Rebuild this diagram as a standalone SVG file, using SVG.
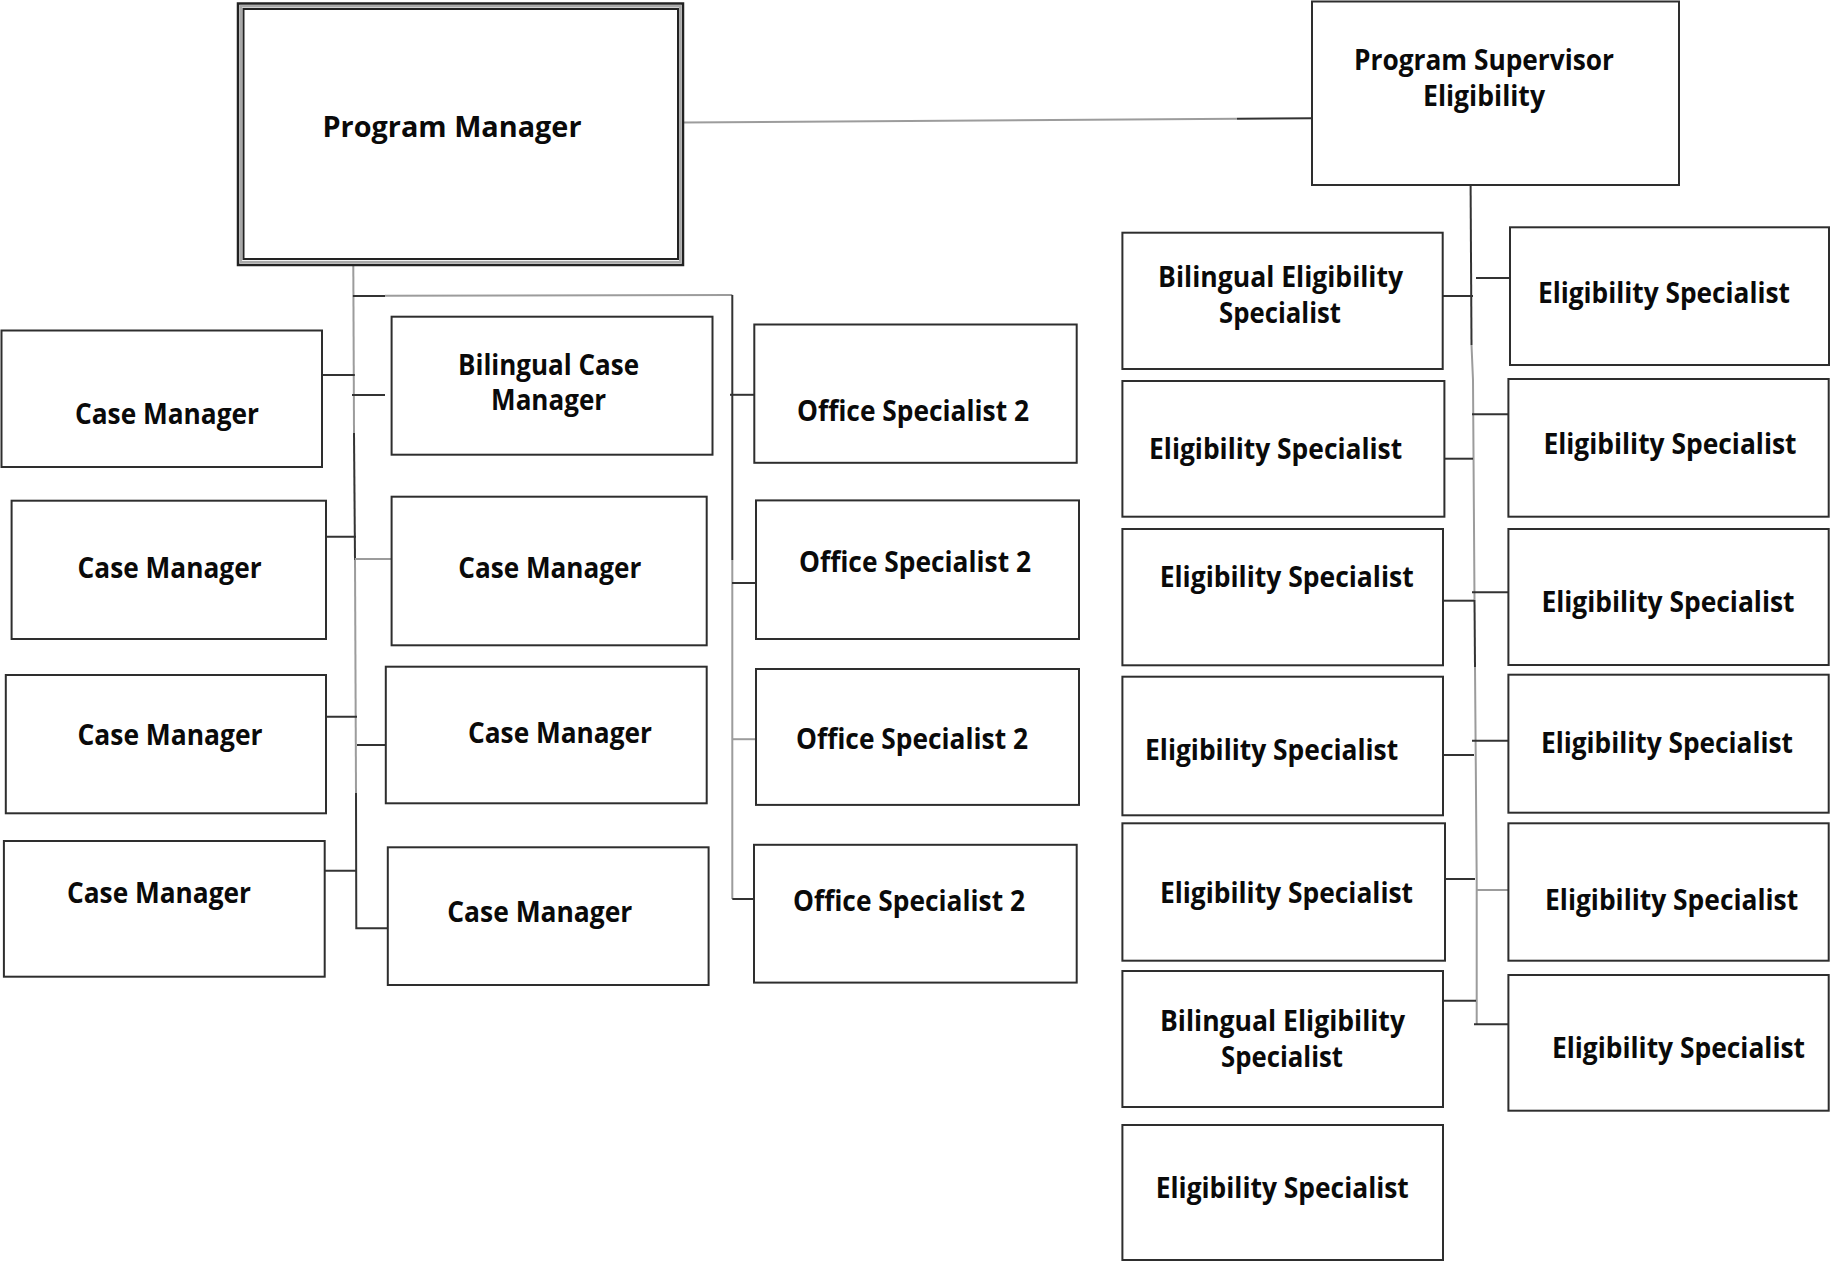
<svg xmlns="http://www.w3.org/2000/svg" width="1831" height="1261" viewBox="0 0 1831 1261">
  <style>
    .box { fill: #ffffff; stroke: #2e2e2e; stroke-width: 2; }
    .lbl { font-family: "Open Sans", "Liberation Sans", sans-serif; font-weight: 700; font-size: 28px; fill: #0a0a0a; text-anchor: middle; }
    .ln { stroke: #333333; stroke-width: 2; fill: none; }
    .lg { stroke: #9c9c9c; stroke-width: 2; fill: none; }
  </style>
  <rect width="1831" height="1261" fill="#ffffff"/>

  <!-- connectors -->
  <g id="connectors">
    <!-- manager to supervisor -->
    <line class="lg" x1="683" y1="122.5" x2="1237" y2="118.8"/>
    <line class="ln" x1="1237" y1="118.8" x2="1312" y2="118.3"/>

    <!-- manager trunk -->
    <polyline class="lg" points="353.3,265 354,433"/>
    <polyline class="ln" points="354,433 355,560"/>
    <polyline class="lg" points="355,560 356,793"/>
    <polyline class="ln" points="356,793 356.3,928.3 388,928.3"/>
    <line class="ln" x1="352.9" y1="296" x2="385" y2="296"/>
    <line class="lg" x1="385" y1="295.8" x2="732.3" y2="295"/>
    <polyline class="ln" points="732.3,295 732.3,560"/>
    <polyline class="lg" points="732.3,560 732.3,899"/>
    <line class="ln" x1="732.3" y1="899" x2="757" y2="899"/>

    <!-- case managers -->
    <line class="ln" x1="322" y1="375" x2="354.8" y2="375"/>
    <line class="ln" x1="352" y1="395" x2="385" y2="395"/>
    <line class="ln" x1="320" y1="536.7" x2="356" y2="536.7"/>
    <line class="lg" x1="354.8" y1="559" x2="391.6" y2="559"/>
    <line class="ln" x1="323.8" y1="716.7" x2="357" y2="716.7"/>
    <line class="ln" x1="357" y1="745" x2="385.8" y2="745"/>
    <line class="ln" x1="324.7" y1="870.7" x2="357" y2="870.7"/>

    <!-- office specialists -->
    <line class="ln" x1="730" y1="394.8" x2="754.3" y2="394.8"/>
    <line class="ln" x1="732" y1="583" x2="759" y2="583"/>
    <line class="lg" x1="733" y1="739.2" x2="756" y2="739.2"/>

    <!-- supervisor trunk -->
    <polyline class="ln" points="1470.6,185 1471.5,345"/>
    <polyline class="lg" points="1471.5,345 1473,380 1474.5,600"/>
    <polyline class="ln" points="1474.5,600 1475,667"/>
    <polyline class="lg" points="1475,667 1476.7,880 1476.7,1024.3"/>

    <!-- eligibility staff -->
    <line class="ln" x1="1442.7" y1="296" x2="1473" y2="296"/>
    <line class="ln" x1="1476" y1="278" x2="1510" y2="278"/>
    <line class="ln" x1="1472" y1="414.3" x2="1508.4" y2="414.3"/>
    <line class="ln" x1="1444" y1="458.7" x2="1473" y2="458.7"/>
    <line class="ln" x1="1472" y1="592.3" x2="1508.4" y2="592.3"/>
    <line class="ln" x1="1443" y1="600.7" x2="1474" y2="600.7"/>
    <line class="ln" x1="1472" y1="740.7" x2="1508.4" y2="740.7"/>
    <line class="ln" x1="1440" y1="755" x2="1474" y2="755"/>
    <line class="ln" x1="1440" y1="879" x2="1475" y2="879"/>
    <line class="lg" x1="1476" y1="890" x2="1508.4" y2="890"/>
    <line class="ln" x1="1443" y1="1000.7" x2="1476" y2="1000.7"/>
    <line class="ln" x1="1474" y1="1024.3" x2="1510" y2="1024.3"/>
  </g>

  <!-- top level -->
  <g id="program-manager">
    <rect x="238" y="3.5" width="445" height="261.5" fill="#ffffff" stroke="#222222" stroke-width="2.5"/>
    <rect x="240.8" y="6.3" width="439.5" height="255.8" fill="none" stroke="#a8a8a8" stroke-width="2.5"/>
    <rect x="243.5" y="9" width="434.5" height="250" fill="#ffffff" stroke="#222222" stroke-width="2"/>
    <text class="lbl" x="452" y="137" textLength="259" lengthAdjust="spacingAndGlyphs">Program Manager</text>
  </g>
  <g id="program-supervisor">
    <rect class="box" x="1312" y="1.5" width="367" height="183.5"/>
    <text class="lbl" x="1484" y="70" textLength="260" lengthAdjust="spacingAndGlyphs">Program Supervisor</text>
    <text class="lbl" x="1484" y="106" textLength="122" lengthAdjust="spacingAndGlyphs">Eligibility</text>
  </g>

  <!-- case management -->
  <g id="case-manager-1">
    <rect class="box" x="1.5" y="330.5" width="320.5" height="136.5"/>
    <text class="lbl" x="167" y="423.5" textLength="184" lengthAdjust="spacingAndGlyphs">Case Manager</text>
  </g>
  <g id="case-manager-2">
    <rect class="box" x="11.6" y="500.7" width="314.4" height="138.3"/>
    <text class="lbl" x="169.6" y="578.3" textLength="184" lengthAdjust="spacingAndGlyphs">Case Manager</text>
  </g>
  <g id="case-manager-3">
    <rect class="box" x="5.8" y="675" width="320.2" height="138.3"/>
    <text class="lbl" x="170" y="745" textLength="185" lengthAdjust="spacingAndGlyphs">Case Manager</text>
  </g>
  <g id="case-manager-4">
    <rect class="box" x="3.9" y="841" width="320.8" height="135.7"/>
    <text class="lbl" x="159" y="903.3" textLength="184" lengthAdjust="spacingAndGlyphs">Case Manager</text>
  </g>
  <g id="bilingual-case-manager">
    <rect class="box" x="391.6" y="316.7" width="320.9" height="138"/>
    <text class="lbl" x="548.5" y="375" textLength="181" lengthAdjust="spacingAndGlyphs">Bilingual Case</text>
    <text class="lbl" x="548.6" y="410" textLength="115" lengthAdjust="spacingAndGlyphs">Manager</text>
  </g>
  <g id="case-manager-5">
    <rect class="box" x="391.6" y="496.7" width="315.1" height="148.6"/>
    <text class="lbl" x="549.8" y="578.3" textLength="183" lengthAdjust="spacingAndGlyphs">Case Manager</text>
  </g>
  <g id="case-manager-6">
    <rect class="box" x="385.8" y="666.7" width="320.9" height="136.6"/>
    <text class="lbl" x="560" y="743.3" textLength="184" lengthAdjust="spacingAndGlyphs">Case Manager</text>
  </g>
  <g id="case-manager-7">
    <rect class="box" x="387.8" y="847.3" width="320.8" height="137.7"/>
    <text class="lbl" x="539.8" y="921.7" textLength="185" lengthAdjust="spacingAndGlyphs">Case Manager</text>
  </g>

  <!-- office support -->
  <g id="office-specialist-1">
    <rect class="box" x="754.3" y="324.5" width="322.4" height="138.3"/>
    <text class="lbl" x="913" y="421.4" textLength="232" lengthAdjust="spacingAndGlyphs">Office Specialist 2</text>
  </g>
  <g id="office-specialist-2">
    <rect class="box" x="756" y="500.4" width="323" height="138.6"/>
    <text class="lbl" x="915" y="571.6" textLength="232" lengthAdjust="spacingAndGlyphs">Office Specialist 2</text>
  </g>
  <g id="office-specialist-3">
    <rect class="box" x="756" y="669" width="323" height="135.9"/>
    <text class="lbl" x="912" y="749.3" textLength="232" lengthAdjust="spacingAndGlyphs">Office Specialist 2</text>
  </g>
  <g id="office-specialist-4">
    <rect class="box" x="754" y="844.8" width="322.7" height="137.8"/>
    <text class="lbl" x="909" y="911.4" textLength="232" lengthAdjust="spacingAndGlyphs">Office Specialist 2</text>
  </g>

  <!-- eligibility, inner column -->
  <g id="bilingual-eligibility-1">
    <rect class="box" x="1122.4" y="232.7" width="320.3" height="136.3"/>
    <text class="lbl" x="1280.6" y="287.3" textLength="245" lengthAdjust="spacingAndGlyphs">Bilingual Eligibility</text>
    <text class="lbl" x="1280" y="322.7" textLength="122" lengthAdjust="spacingAndGlyphs">Specialist</text>
  </g>
  <g id="eligibility-1">
    <rect class="box" x="1122.4" y="381" width="322" height="135.7"/>
    <text class="lbl" x="1275.6" y="459.3" textLength="253" lengthAdjust="spacingAndGlyphs">Eligibility Specialist</text>
  </g>
  <g id="eligibility-2">
    <rect class="box" x="1122.4" y="529" width="320.6" height="136.3"/>
    <text class="lbl" x="1286.7" y="586.7" textLength="254" lengthAdjust="spacingAndGlyphs">Eligibility Specialist</text>
  </g>
  <g id="eligibility-3">
    <rect class="box" x="1122.4" y="676.7" width="320.6" height="138.6"/>
    <text class="lbl" x="1271.6" y="760" textLength="253" lengthAdjust="spacingAndGlyphs">Eligibility Specialist</text>
  </g>
  <g id="eligibility-4">
    <rect class="box" x="1122.4" y="823.3" width="322.6" height="137.4"/>
    <text class="lbl" x="1286.5" y="902.7" textLength="253" lengthAdjust="spacingAndGlyphs">Eligibility Specialist</text>
  </g>
  <g id="bilingual-eligibility-2">
    <rect class="box" x="1122.4" y="971" width="320.6" height="136"/>
    <text class="lbl" x="1282.5" y="1030.7" textLength="245" lengthAdjust="spacingAndGlyphs">Bilingual Eligibility</text>
    <text class="lbl" x="1282" y="1066.7" textLength="122" lengthAdjust="spacingAndGlyphs">Specialist</text>
  </g>
  <g id="eligibility-5">
    <rect class="box" x="1122.4" y="1125" width="320.6" height="135"/>
    <text class="lbl" x="1282.3" y="1198.3" textLength="253" lengthAdjust="spacingAndGlyphs">Eligibility Specialist</text>
  </g>

  <!-- eligibility, outer column -->
  <g id="eligibility-6">
    <rect class="box" x="1510" y="227.3" width="319" height="137.7"/>
    <text class="lbl" x="1664" y="303" textLength="252" lengthAdjust="spacingAndGlyphs">Eligibility Specialist</text>
  </g>
  <g id="eligibility-7">
    <rect class="box" x="1508.4" y="379" width="320.3" height="137.7"/>
    <text class="lbl" x="1670" y="454" textLength="253" lengthAdjust="spacingAndGlyphs">Eligibility Specialist</text>
  </g>
  <g id="eligibility-8">
    <rect class="box" x="1508.4" y="529" width="320.3" height="136"/>
    <text class="lbl" x="1668" y="611.7" textLength="253" lengthAdjust="spacingAndGlyphs">Eligibility Specialist</text>
  </g>
  <g id="eligibility-9">
    <rect class="box" x="1508.4" y="674.7" width="320.3" height="138"/>
    <text class="lbl" x="1667" y="753.3" textLength="252" lengthAdjust="spacingAndGlyphs">Eligibility Specialist</text>
  </g>
  <g id="eligibility-10">
    <rect class="box" x="1508.4" y="823.3" width="320.3" height="137.4"/>
    <text class="lbl" x="1671.6" y="910" textLength="253" lengthAdjust="spacingAndGlyphs">Eligibility Specialist</text>
  </g>
  <g id="eligibility-11">
    <rect class="box" x="1508.4" y="975" width="320.3" height="135.7"/>
    <text class="lbl" x="1678.5" y="1058.3" textLength="253" lengthAdjust="spacingAndGlyphs">Eligibility Specialist</text>
  </g>
</svg>
